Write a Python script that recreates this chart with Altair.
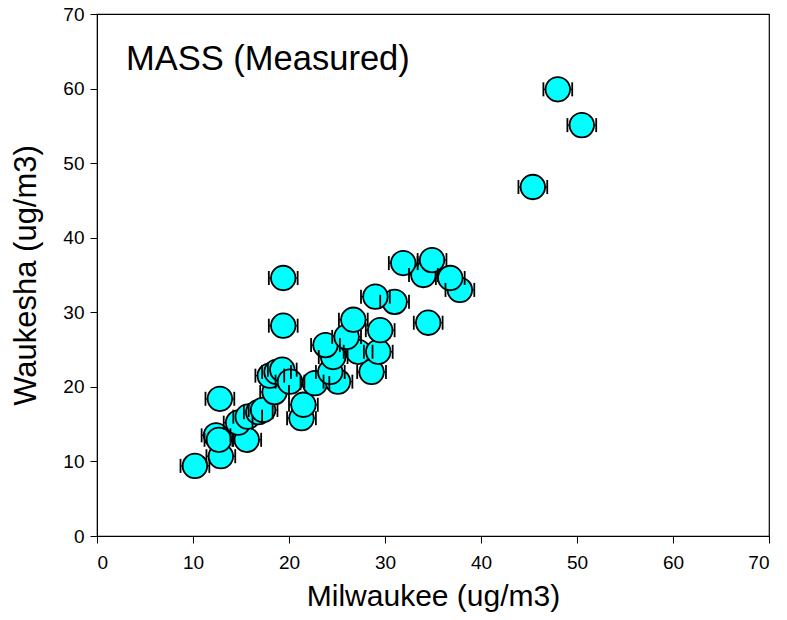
import altair as alt
import pandas as pd

milwaukee = [10.2, 12.8, 12.9, 12.4, 12.7, 15.6, 14.7, 15.7, 16.8, 17.3,
             18.5, 18.0, 18.7, 19.3, 20.1, 21.3, 21.5, 22.7, 25.1, 24.3,
             28.6, 24.6, 27.2, 29.3, 23.8, 26.0, 29.5, 26.7, 19.4, 19.4,
             34.5, 31.0, 29.0, 37.8, 36.8, 34.0, 31.9, 34.9, 45.4, 50.5, 48.0]
waukesha = [9.4, 18.4, 10.7, 13.5, 12.9, 12.9, 15.2, 16.0, 16.6, 16.9,
            19.3, 21.5, 22.0, 22.3, 20.7, 15.8, 17.6, 20.5, 20.7, 22.0,
            22.0, 24.0, 24.7, 24.7, 25.6, 26.7, 27.6, 29.0, 28.2, 34.6,
            28.6, 31.4, 32.1, 33.0, 34.6, 35.0, 36.6, 37.0, 46.8, 55.1, 59.9]
x_error = [1.5] * len(milwaukee)

df = pd.DataFrame({"m": milwaukee, "w": waukesha, "e": x_error})
df["lo"] = df["m"] - df["e"]
df["hi"] = df["m"] + df["e"]

FONT = "Liberation Sans"
xs = alt.Scale(domain=[0, 70], nice=False, zero=False)
ys = alt.Scale(domain=[0, 70], nice=False, zero=False)
ticks = [0, 10, 20, 30, 40, 50, 60, 70]

xax = alt.Axis(values=ticks, grid=False, tickSize=7, tickColor="black", domainColor="black",
               labelFontSize=19, labelFont=FONT, labelColor="black", labelPadding=10,
               title="Milwaukee (ug/m3)", titleFontSize=30, titleFont=FONT,
               titleFontWeight="normal", titleColor="black", titlePadding=9)
yax = alt.Axis(values=ticks, grid=False, tickSize=7, tickColor="black", domainColor="black",
               labelFontSize=19, labelFont=FONT, labelColor="black", labelPadding=6,
               title="Waukesha (ug/m3)", titleFontSize=31, titleFont=FONT,
               titleFontWeight="normal", titleColor="black", titlePadding=20)

base = alt.Chart(df)

rule = base.mark_rule(color="black", strokeWidth=1.2).encode(
    x=alt.X("lo:Q", scale=xs, axis=xax), x2="hi:Q",
    y=alt.Y("w:Q", scale=ys, axis=yax))

pts = base.mark_circle(size=600, color="#00FFFF", opacity=1, stroke="black",
                       strokeWidth=1.8).encode(
    x=alt.X("m:Q", scale=xs), y=alt.Y("w:Q", scale=ys))

cap_lo = base.mark_tick(orient="vertical", size=14, thickness=1.8, color="black",
                        opacity=1).encode(
    x=alt.X("lo:Q", scale=xs), y=alt.Y("w:Q", scale=ys))
cap_hi = base.mark_tick(orient="vertical", size=14, thickness=1.8, color="black",
                        opacity=1).encode(
    x=alt.X("hi:Q", scale=xs), y=alt.Y("w:Q", scale=ys))

label = alt.Chart(pd.DataFrame({"t": ["MASS (Measured)"]})).mark_text(
    align="left", baseline="middle", fontSize=34.5, font=FONT, color="black").encode(
    x=alt.value(29), y=alt.value(46), text="t:N")

chart = alt.layer(rule, pts, cap_lo, cap_hi, label).properties(
    width=672, height=522,
    padding={"left": 97, "top": 14, "right": 18, "bottom": 84},
    autosize=alt.AutoSizeParams(type="none"),
    background="white",
).configure_view(stroke="black", strokeWidth=1.2)

chart.save("out.html", embed_options={"renderer": "svg", "actions": False})
